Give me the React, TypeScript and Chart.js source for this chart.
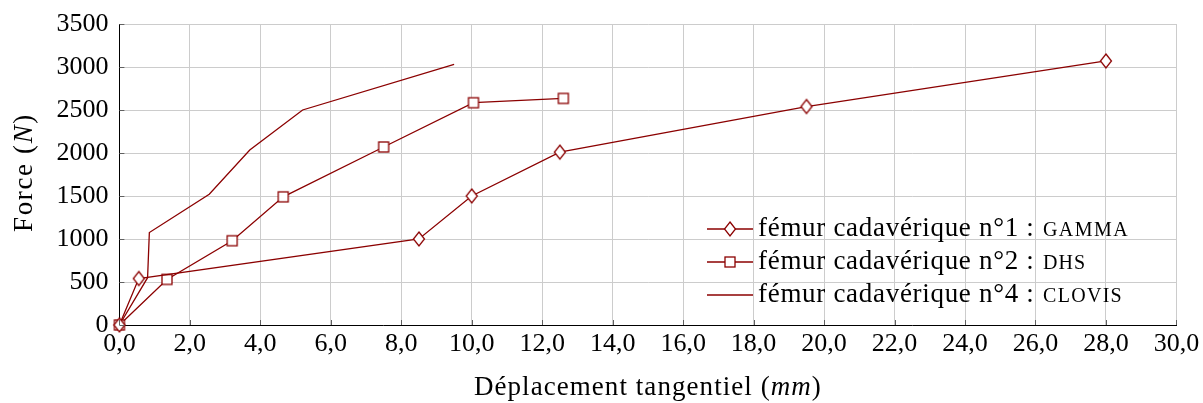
import React, { useEffect, useRef } from 'react';
import { Chart, registerables } from 'chart.js';

Chart.register(...registerables);

// ---- data ----
const gammaX = [0, 0.55, 8.5, 10.0, 12.5, 19.5, 28.0];
const gammaY = [0, 540, 1000, 1500, 2010, 2540, 3070];

const dhsX = [0, 1.35, 3.2, 4.65, 7.5, 10.05, 12.6];
const dhsY = [0, 530, 980, 1490, 2070, 2585, 2635];

const clovisX = [0, 0.8, 0.85, 2.55, 3.7, 5.2, 9.5];
const clovisY = [0, 550, 1075, 1520, 2035, 2500, 3030];

const seriesNames = ['fémur cadavérique n°1 : ', 'fémur cadavérique n°2 : ', 'fémur cadavérique n°4 : '];
const seriesTags = ['gamma', 'dhs', 'clovis'];

const xTickValues = [0, 2, 4, 6, 8, 10, 12, 14, 16, 18, 20, 22, 24, 26, 28, 30];
const xTickLabels = ['0,0', '2,0', '4,0', '6,0', '8,0', '10,0', '12,0', '14,0', '16,0', '18,0', '20,0', '22,0', '24,0', '26,0', '28,0', '30,0'];
const yTickValues = [0, 500, 1000, 1500, 2000, 2500, 3000, 3500];
const yTickLabels = ['0', '500', '1000', '1500', '2000', '2500', '3000', '3500'];

const xTitleParts = ['Déplacement tangentiel (', 'mm', ')'];
const yTitleParts = ['Force (', 'N', ')'];

const RED = '#8b0000';
const FAMILY = "'Liberation Serif', 'DejaVu Serif', serif";

function toPoints(xs: number[], ys: number[]) {
  return xs.map((x, i) => ({ x, y: ys[i] }));
}

function makeDiamond(): HTMLCanvasElement {
  const c = document.createElement('canvas');
  c.width = 14;
  c.height = 18;
  const g = c.getContext('2d')!;
  g.beginPath();
  g.moveTo(7, 2);
  g.lineTo(12.5, 9);
  g.lineTo(7, 16);
  g.lineTo(1.5, 9);
  g.closePath();
  g.fillStyle = '#ffffff';
  g.fill();
  g.strokeStyle = RED;
  g.lineWidth = 1.3;
  g.stroke();
  return c;
}

function makeSquare(): HTMLCanvasElement {
  const c = document.createElement('canvas');
  c.width = 14;
  c.height = 14;
  const g = c.getContext('2d')!;
  g.fillStyle = '#ffffff';
  g.fillRect(2, 2, 10, 10);
  g.strokeStyle = RED;
  g.lineWidth = 1.3;
  g.strokeRect(2, 2, 10, 10);
  return c;
}

type Seg = { text: string; font: string };

function drawSegs(ctx: any, segs: Seg[], x: number, y: number, align: 'left' | 'center', target?: number) {
  ctx.letterSpacing = '0px';
  const widths = segs.map((s) => {
    ctx.font = s.font;
    return ctx.measureText(s.text).width;
  });
  const natural = widths.reduce((a, b) => a + b, 0);
  const n = segs.reduce((a, s) => a + s.text.length, 0);
  const ls = target ? (target - natural) / n : 0;
  const total = natural + ls * n;
  let cx = align === 'center' ? x - total / 2 : x;
  ctx.textAlign = 'left';
  ctx.textBaseline = 'alphabetic';
  segs.forEach((s, i) => {
    ctx.font = s.font;
    ctx.letterSpacing = ls + 'px';
    ctx.fillText(s.text, cx, y);
    cx += widths[i] + ls * s.text.length;
  });
  ctx.letterSpacing = '0px';
}

export default function App() {
  const ref = useRef<HTMLCanvasElement>(null);

  useEffect(() => {
    const canvas = ref.current;
    if (!canvas) return;
    const diamond = makeDiamond();
    const square = makeSquare();
    const markers: any[] = [diamond, square, null];

    const overlay = {
      id: 'overlay',
      afterDraw(chart: any) {
        const ctx = chart.ctx;
        const area = chart.chartArea;
        const xs = chart.scales.x;
        const ys = chart.scales.y;
        ctx.save();
        // inner tick marks
        ctx.strokeStyle = '#606060';
        ctx.lineWidth = 1;
        ctx.beginPath();
        xTickValues.forEach((v) => {
          const px = Math.round(xs.getPixelForValue(v)) + 0.5;
          ctx.moveTo(px, area.bottom);
          ctx.lineTo(px, area.bottom - 5);
        });
        yTickValues.forEach((v) => {
          const py = Math.round(ys.getPixelForValue(v)) + 0.5;
          ctx.moveTo(area.left, py);
          ctx.lineTo(area.left + 5, py);
        });
        ctx.stroke();

        ctx.fillStyle = '#000';
        // x title
        drawSegs(
          ctx,
          [
            { text: xTitleParts[0], font: `27px ${FAMILY}` },
            { text: xTitleParts[1], font: `italic 27px ${FAMILY}` },
            { text: xTitleParts[2], font: `27px ${FAMILY}` },
          ],
          (area.left + area.right) / 2,
          395,
          'center',
          348
        );
        // y title
        ctx.save();
        ctx.translate(32, 172.5);
        ctx.rotate(-Math.PI / 2);
        drawSegs(
          ctx,
          [
            { text: yTitleParts[0], font: `27px ${FAMILY}` },
            { text: yTitleParts[1], font: `italic 27px ${FAMILY}` },
            { text: yTitleParts[2], font: `27px ${FAMILY}` },
          ],
          0,
          0,
          'center',
          119
        );
        ctx.restore();

        // legend
        const rowY = [229, 262, 295];
        const capWidths = [86, 43, 80];
        chart.data.datasets.forEach((ds: any, i: number) => {
          const y = rowY[i];
          ctx.strokeStyle = ds.borderColor;
          ctx.lineWidth = ds.borderWidth;
          ctx.beginPath();
          ctx.moveTo(707, y);
          ctx.lineTo(753, y);
          ctx.stroke();
          const m = markers[i];
          if (m) ctx.drawImage(m, 730 - m.width / 2, y - m.height / 2);
          ctx.fillStyle = '#000';
          drawSegs(ctx, [{ text: seriesNames[i], font: `27px ${FAMILY}` }], 758, y + 7, 'left', 284);
          drawSegs(ctx, [{ text: seriesTags[i].toUpperCase(), font: `20px ${FAMILY}` }], 1043, y + 7, 'left', capWidths[i]);
        });
        ctx.restore();
      },
    };

    const chart = new Chart(canvas, {
      type: 'line',
      data: {
        datasets: [
          {
            label: seriesNames[0] + seriesTags[0],
            data: toPoints(gammaX, gammaY),
            borderColor: RED,
            borderWidth: 1.3,
            pointStyle: diamond as any,
            pointRadius: 6,
            clip: false as any,
          },
          {
            label: seriesNames[1] + seriesTags[1],
            data: toPoints(dhsX, dhsY),
            borderColor: RED,
            borderWidth: 1.3,
            pointStyle: square as any,
            pointRadius: 6,
            clip: false as any,
          },
          {
            label: seriesNames[2] + seriesTags[2],
            data: toPoints(clovisX, clovisY),
            borderColor: RED,
            borderWidth: 1.3,
            pointRadius: 0,
            clip: false as any,
          },
        ],
      },
      options: {
        animation: false,
        responsive: false,
        parsing: false as any,
        layout: { padding: { left: 0, top: 24, right: 26.6, bottom: 0 } },
        plugins: { legend: { display: false }, tooltip: { enabled: false } },
        elements: { line: { tension: 0, fill: false } },
        scales: {
          x: {
            type: 'linear',
            min: 0,
            max: 30,
            afterBuildTicks: (s: any) => {
              s.ticks = xTickValues.map((v) => ({ value: v }));
            },
            afterFit: (s: any) => {
              s.height = 78;
              s.paddingLeft = 0;
              s.paddingRight = 0;
            },
            ticks: {
              autoSkip: false,
              maxRotation: 0,
              padding: 4,
              color: '#000',
              font: { family: FAMILY, size: 26 },
              callback: (v: any, i: number) => xTickLabels[i],
            },
            grid: { color: '#cccccc', drawTicks: false, lineWidth: 1 },
            border: { color: '#000', width: 1 },
          },
          y: {
            type: 'linear',
            min: 0,
            max: 3500,
            afterBuildTicks: (s: any) => {
              s.ticks = yTickValues.map((v) => ({ value: v }));
            },
            afterFit: (s: any) => {
              s.width = 119.4;
              s.paddingTop = 0;
              s.paddingBottom = 0;
            },
            ticks: {
              autoSkip: false,
              padding: 11,
              color: '#000',
              font: { family: FAMILY, size: 26 },
              callback: (v: any, i: number) => yTickLabels[i],
            },
            grid: { color: '#cccccc', drawTicks: false, lineWidth: 1 },
            border: { color: '#000', width: 1 },
          },
        },
      },
      plugins: [overlay],
    });

    return () => chart.destroy();
  }, []);

  return (
    <div style={{ position: 'absolute', left: 0, top: 0, width: 1203, height: 403, background: '#fff' }}>
      <canvas ref={ref} width={1203} height={403} style={{ display: 'block' }} />
    </div>
  );
}
